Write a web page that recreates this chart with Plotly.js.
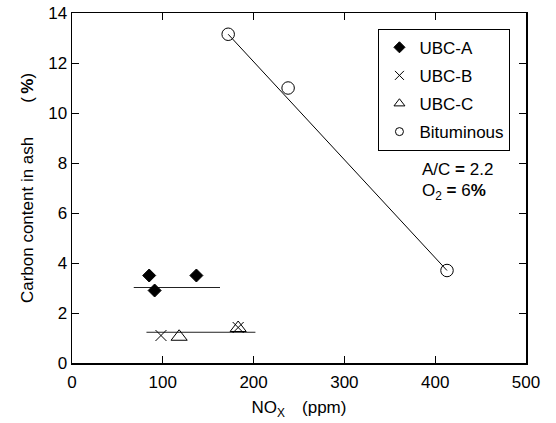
<!DOCTYPE html>
<html>
<head>
<meta charset="utf-8">
<script src="https://cdn.plot.ly/plotly-3.0.1.min.js"></script>
<style>html,body{margin:0;padding:0;background:#fff;}#chart{width:556px;height:423px;}</style>
</head>
<body>
<div id="chart"></div>
<script>
// Data
const seriesNames = ["UBC-A", "UBC-B", "UBC-C", "Bituminous"];
const ubcA_x = [85, 91, 137];
const ubcA_y = [3.5, 2.9, 3.5];
const ubcB_x = [98, 183];
const ubcB_y = [1.1, 1.42];
const ubcC_x = [118, 183];
const ubcC_y = [1.05, 1.4];
const bit_x = [172, 238, 413];
const bit_y = [13.15, 11.0, 3.7];
// fit lines
const fitA_x = [68, 163];
const fitA_y = [3.02, 3.02];
const fitBC_x = [82, 202];
const fitBC_y = [1.23, 1.23];
const fitBit_x = [172, 413];
const fitBit_y = [13.15, 3.7];
const xTicks = [0, 100, 200, 300, 400, 500];
const yTicks = [0, 2, 4, 6, 8, 10, 12, 14];

const FONT = "Liberation Sans, Arial, sans-serif";
const FS = 17;

const symbols = ["diamond", "x-thin-open", "triangle-up-open", "circle-open"];
const dataSizes = [10, 11, 14, 12.5];
const legendSizes = [8.5, 9, 9.5, 8];
const xs = [ubcA_x, ubcB_x, ubcC_x, bit_x];
const ys = [ubcA_y, ubcB_y, ubcC_y, bit_y];

const traces = [
  {x: fitA_x, y: fitA_y, mode: "lines", line: {color: "#222", width: 1}, showlegend: false, hoverinfo: "skip"},
  {x: fitBC_x, y: fitBC_y, mode: "lines", line: {color: "#222", width: 1}, showlegend: false, hoverinfo: "skip"},
  {x: fitBit_x, y: fitBit_y, mode: "lines", line: {color: "#000", width: 1}, showlegend: false, hoverinfo: "skip"}
];
for (let i = 0; i < 4; i++) {
  traces.push({name: seriesNames[i], x: xs[i], y: ys[i], mode: "markers", showlegend: false,
    marker: {symbol: symbols[i], size: dataSizes[i], color: "#000", line: {color: "#000", width: 1}}});
}
// legend entries (no data, smaller legend symbols)
for (let i = 0; i < 4; i++) {
  traces.push({name: seriesNames[i], x: [null], y: [null], mode: "markers", showlegend: true,
    legendgroup: "g" + i,
    marker: {symbol: symbols[i], size: legendSizes[i], color: "#000", line: {color: "#000", width: 1}}});
}

const axisCommon = {
  showgrid: false, zeroline: false, showline: true, linecolor: "#000", linewidth: 1.5,
  mirror: "ticks", ticks: "inside", ticklen: 7, tickwidth: 1, tickcolor: "#000",
  tickfont: {family: FONT, size: FS, color: "#000"}
};

const layout = {
  width: 556, height: 423,
  margin: {l: 72, r: 30, t: 13, b: 60},
  paper_bgcolor: "#fff", plot_bgcolor: "#fff",
  font: {family: FONT, size: FS, color: "#000"},
  xaxis: Object.assign({}, axisCommon, {
    range: [0, 500], tickvals: xTicks, ticklabelstandoff: 3,
    title: {text: "NO<sub>X</sub>\u2003(ppm)", font: {family: FONT, size: FS}, standoff: 10}
  }),
  yaxis: Object.assign({}, axisCommon, {
    range: [0, 14], tickvals: yTicks,
    title: {text: "Carbon content in ash\u2003\u2003(\u2009<b>%</b>)", font: {family: FONT, size: FS}, standoff: 10}
  }),
  legend: {
    x: 0.675, y: 0.955, xanchor: "left", yanchor: "top",
    bgcolor: "#fff", bordercolor: "#000", borderwidth: 1,
    font: {family: FONT, size: FS, color: "#000"},
    itemsizing: "trace", tracegroupgap: 3
  },
  showlegend: true,
  annotations: [
    {x: 383, y: 7.73, xref: "x", yref: "y", xanchor: "left", yanchor: "middle", showarrow: false,
     text: "A/C <b>=</b> 2.2", font: {family: FONT, size: FS, color: "#000"}},
    {x: 383, y: 6.85, xref: "x", yref: "y", xanchor: "left", yanchor: "middle", showarrow: false,
     text: "O<sub>2</sub> <b>=</b> 6<b>%</b>", font: {family: FONT, size: FS, color: "#000"}}
  ]
};

Plotly.newPlot("chart", traces, layout, {displayModeBar: false, staticPlot: true});
</script>
</body>
</html>
